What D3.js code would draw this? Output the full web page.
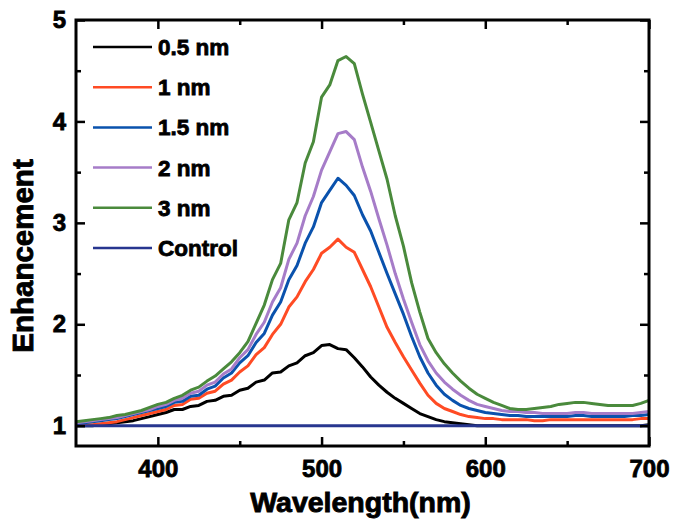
<!DOCTYPE html>
<html><head><meta charset="utf-8">
<script src="https://cdn.jsdelivr.net/npm/d3@7"></script>
<style>
body{margin:0;background:#fff;}
text{font-family:"Liberation Sans",Arial,sans-serif;font-weight:bold;}
</style></head>
<body><svg id="c" width="677" height="527"></svg>
<script>
const wavelengths = [350,355,360,365,370,375,380,385,390,395,400,405,410,415,420,425,430,435,440,445,450,455,460,465,470,475,480,485,490,495,500,505,510,515,520,525,530,535,540,545,550,555,560,565,570,575,580,585,590,595,600,605,610,615,620,625,630,635,640,645,650,655,660,665,670,675,680,685,690,695,700];
const nm05 = [1.00,1.00,1.00,1.01,1.02,1.03,1.04,1.05,1.07,1.09,1.11,1.13,1.16,1.16,1.19,1.20,1.24,1.25,1.29,1.30,1.35,1.37,1.43,1.45,1.52,1.53,1.59,1.62,1.69,1.72,1.79,1.80,1.76,1.75,1.67,1.58,1.48,1.40,1.33,1.27,1.22,1.17,1.12,1.09,1.06,1.04,1.03,1.02,1.01,1.00,1.00,1.00,1.00,1.00,1.00,1.00,1.00,1.00,1.00,1.00,1.00,1.00,1.00,1.00,1.00,1.00,1.00,1.00,1.00,1.00,1.01];
const nm1 = [1.00,1.01,1.01,1.02,1.03,1.04,1.06,1.08,1.10,1.12,1.14,1.16,1.20,1.21,1.26,1.27,1.32,1.34,1.41,1.45,1.53,1.59,1.70,1.77,1.90,2.00,2.17,2.27,2.42,2.54,2.70,2.76,2.84,2.76,2.71,2.54,2.37,2.17,1.97,1.82,1.68,1.55,1.42,1.30,1.22,1.17,1.14,1.11,1.09,1.08,1.07,1.07,1.06,1.06,1.06,1.06,1.05,1.05,1.06,1.06,1.06,1.06,1.06,1.06,1.06,1.06,1.06,1.06,1.06,1.07,1.07];
const nm15 = [1.02,1.03,1.04,1.05,1.06,1.07,1.09,1.11,1.13,1.15,1.17,1.19,1.23,1.24,1.29,1.30,1.36,1.39,1.47,1.52,1.62,1.69,1.82,1.91,2.09,2.22,2.44,2.58,2.80,2.96,3.20,3.32,3.44,3.37,3.27,3.08,2.92,2.71,2.50,2.30,2.10,1.88,1.68,1.52,1.40,1.31,1.25,1.20,1.17,1.15,1.13,1.12,1.11,1.10,1.10,1.09,1.09,1.09,1.09,1.09,1.09,1.10,1.10,1.09,1.09,1.09,1.09,1.09,1.10,1.10,1.11];
const nm2 = [1.03,1.04,1.05,1.06,1.07,1.08,1.10,1.12,1.14,1.16,1.19,1.21,1.25,1.27,1.32,1.34,1.40,1.43,1.51,1.56,1.67,1.75,1.90,2.02,2.22,2.36,2.64,2.80,3.07,3.26,3.52,3.70,3.88,3.90,3.82,3.55,3.31,3.04,2.78,2.50,2.25,2.02,1.80,1.64,1.52,1.43,1.36,1.30,1.25,1.21,1.19,1.17,1.15,1.14,1.14,1.13,1.13,1.12,1.12,1.12,1.12,1.13,1.13,1.12,1.12,1.12,1.12,1.12,1.12,1.13,1.14];
const nm3 = [1.04,1.05,1.06,1.07,1.08,1.10,1.11,1.13,1.15,1.18,1.21,1.23,1.27,1.30,1.35,1.38,1.44,1.49,1.56,1.63,1.72,1.83,2.01,2.19,2.44,2.60,3.03,3.20,3.59,3.80,4.24,4.36,4.60,4.64,4.57,4.27,3.99,3.71,3.43,3.07,2.77,2.41,2.12,1.86,1.72,1.61,1.52,1.44,1.37,1.31,1.27,1.23,1.20,1.17,1.16,1.16,1.17,1.18,1.19,1.21,1.22,1.23,1.23,1.22,1.21,1.20,1.20,1.20,1.20,1.22,1.25];
const controlWl = [350,700];
const control = [1.00,1.00];
const seriesNames = ["0.5 nm","1 nm","1.5 nm","2 nm","3 nm","Control"];
const seriesColors = ["#000000","#ff4b24","#0a52ad","#a67cc8","#4a8a3c","#27368f"];
const xTicks = [400,500,600,700];
const yTicks = [1,2,3,4,5];
const xLabel = "Wavelength(nm)";
const yLabel = "Enhancement";

const svg = d3.select("#c");
const L=76,R=649,T=20,B=446;
const x = d3.scaleLinear().domain([350,700]).range([L,R]);
const y = d3.scaleLinear().domain([0.8,5]).range([B,T]);

svg.append("defs").append("clipPath").attr("id","clip").append("rect")
  .attr("x",L).attr("y",T).attr("width",R-L).attr("height",B-T);

const series = [
  {wl:wavelengths, v:nm05},{wl:wavelengths, v:nm1},{wl:wavelengths, v:nm15},
  {wl:wavelengths, v:nm2},{wl:wavelengths, v:nm3},{wl:controlWl, v:control}];
const line = d3.line().x(d=>x(d[0])).y(d=>y(d[1]));
const g = svg.append("g").attr("clip-path","url(#clip)");
series.forEach((s,i)=>{
  g.append("path").datum(s.wl.map((w,j)=>[w,s.v[j]]))
   .attr("d",line).attr("fill","none").attr("stroke",seriesColors[i])
   .attr("stroke-width",3).attr("stroke-linejoin","round");
});

// axes
const minorX=[450,550,650], minorY=[1.5,2.5,3.5,4.5];
const ax = svg.append("g").attr("transform",`translate(0,${B})`)
  .call(d3.axisBottom(x).tickValues(xTicks).tickSize(-9).tickPadding(14).tickFormat(d3.format("d")));
const axm = svg.append("g").attr("transform",`translate(0,${B})`)
  .call(d3.axisBottom(x).tickValues(minorX).tickSize(-5).tickFormat(""));
const at = svg.append("g").attr("transform",`translate(0,${T})`)
  .call(d3.axisTop(x).tickValues(xTicks).tickSize(-9).tickFormat(""));
const atm = svg.append("g").attr("transform",`translate(0,${T})`)
  .call(d3.axisTop(x).tickValues(minorX).tickSize(-5).tickFormat(""));
const ay = svg.append("g").attr("transform",`translate(${L},0)`)
  .call(d3.axisLeft(y).tickValues(yTicks).tickSize(-9).tickPadding(10).tickFormat(d3.format("d")));
const aym = svg.append("g").attr("transform",`translate(${L},0)`)
  .call(d3.axisLeft(y).tickValues(minorY).tickSize(-5).tickFormat(""));
const ar = svg.append("g").attr("transform",`translate(${R},0)`)
  .call(d3.axisRight(y).tickValues(yTicks).tickSize(-9).tickFormat(""));
const arm = svg.append("g").attr("transform",`translate(${R},0)`)
  .call(d3.axisRight(y).tickValues(minorY).tickSize(-5).tickFormat(""));
[ax,axm,at,atm,ay,aym,ar,arm].forEach(a=>{
  a.select(".domain").remove();
  a.selectAll("line").attr("stroke","#000").attr("stroke-width",2.5);
  a.selectAll("text").attr("font-size",24).attr("fill","#000")
    .attr("font-family","'Liberation Sans',Arial,sans-serif").attr("font-weight","bold")
    .attr("stroke","#000").attr("stroke-width",0.8);
});
svg.append("rect").attr("x",L).attr("y",T).attr("width",R-L).attr("height",B-T)
  .attr("fill","none").attr("stroke","#000").attr("stroke-width",3);

// axis titles
svg.append("text").attr("x",(L+R)/2-2).attr("y",512).attr("text-anchor","middle")
  .attr("font-size",28.5).attr("stroke","#000").attr("stroke-width",0.9).text(xLabel);
svg.append("text").attr("transform",`translate(33,256) rotate(-90)`).attr("text-anchor","middle")
  .attr("font-size",29.5).attr("stroke","#000").attr("stroke-width",0.9).text(yLabel);

// legend
const leg = svg.append("g");
seriesNames.forEach((n,i)=>{
  const yy = 47 + i*40.2;
  leg.append("line").attr("x1",93).attr("x2",152).attr("y1",yy).attr("y2",yy)
    .attr("stroke",seriesColors[i]).attr("stroke-width",2.5);
  leg.append("text").attr("x",158).attr("y",yy+8).attr("font-size",22.5)
    .attr("stroke","#000").attr("stroke-width",0.8).text(n);
});
</script></body></html>
